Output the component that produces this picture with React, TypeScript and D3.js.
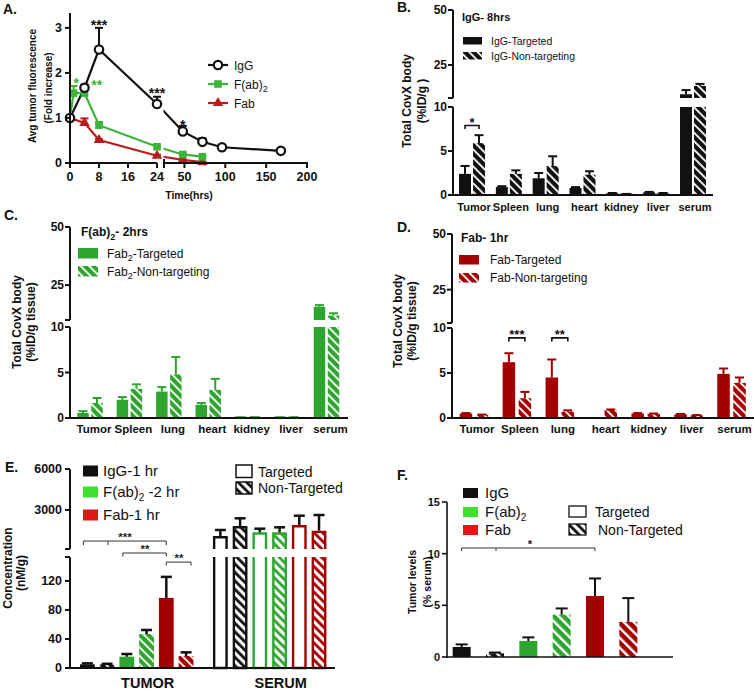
import React from "react";
import * as d3 from "d3";

const FONT = "'Liberation Sans', Arial, Helvetica, sans-serif";
const BLK = "#111111";
const GRN = "#2ea52e";
const RED = "#a50000";
const GRN_A = "#3cb43c";
const RED_A = "#b81c1c";
const LIME = "#40e030";
const RED_L = "#e21616";

// ---------- Panel A data ----------
const iggTime = [0, 4, 8, 24, 48, 72, 96, 168];
const iggMean = [1.0, 1.67, 2.52, 1.31, 0.7, 0.47, 0.35, 0.27];
const iggSem = [0.05, 0.07, 0.48, 0.16, 0.12, 0.08, 0.03, 0.02];
const fab2Time = [0, 1, 4, 8, 24, 48, 72];
const fab2Mean = [1.0, 1.55, 1.55, 0.84, 0.36, 0.19, 0.14];
const fab2Sem = [0.05, 0.16, 0.1, 0.07, 0.03, 0.03, 0.02];
const fabTime = [0, 4, 8, 24, 48, 72];
const fabMean = [1.0, 0.89, 0.51, 0.16, 0.07, 0.02];
const fabSem = [0.05, 0.1, 0.02, 0.02, 0.01, 0.01];
const aXTicksLeft = [0, 8, 16, 24];
const aXTicksRight = [50, 100, 150, 200];
const aYTicks = [0, 1, 2, 3];
const aStars = [
  { t: 1.7, v: 1.83, s: "*", series: "fab2" },
  { t: 7.4, v: 1.78, s: "**", series: "fab2" },
  { t: 8, v: 3.11, s: "***", series: "igg" },
  { t: 24, v: 1.6, s: "***", series: "igg" },
  { t: 48, v: 0.89, s: "*", series: "igg" },
];

// ---------- Panels B-D data ----------
const organs = ["Tumor", "Spleen", "lung", "heart", "kidney", "liver", "serum"];
const bTarg = [2.4, 0.9, 1.9, 0.8, 0.2, 0.3, 11.7];
const bTargSem = [0.9, 0.1, 0.6, 0.1, 0.03, 0.05, 1.9];
const bNon = [5.9, 2.4, 3.3, 2.3, 0.1, 0.2, 15.5];
const bNonSem = [0.9, 0.4, 1.1, 0.4, 0.02, 0.03, 0.9];
const cTarg = [0.55, 2.0, 2.9, 1.45, 0.05, 0.05, 15.7];
const cTargSem = [0.2, 0.3, 0.5, 0.2, 0.01, 0.01, 0.7];
const cNon = [1.65, 3.2, 4.8, 3.1, 0.08, 0.08, 11.9];
const cNonSem = [0.55, 0.5, 1.9, 1.2, 0.01, 0.01, 1.0];
const dTarg = [0.5, 6.2, 4.5, 0, 0.5, 0.4, 4.9];
const dTargSem = [0.05, 1.0, 2.0, 0, 0.05, 0.05, 0.6];
const dNon = [0.35, 2.2, 0.7, 0.9, 0.45, 0.3, 3.9];
const dNonSem = [0.03, 0.7, 0.15, 0.05, 0.05, 0.03, 0.6];
const organTicksLow = [0, 5, 10];
const organTicksHigh = [25, 50];
const bSig = [{ cat: "Tumor", v: 7.9, s: "*" }];
const dSig = [
  { cat: "Spleen", v: 8.9, s: "***" },
  { cat: "lung", v: 8.9, s: "**" },
];

// ---------- Panel E data ----------
const eGroups = ["TUMOR", "SERUM"];
const eSeries = ["IgG-T", "IgG-N", "Fab2-T", "Fab2-N", "Fab-T", "Fab-N"];
const eTumorMean = [5.1, 4.8, 15.6, 46.9, 96.6, 16.5];
const eTumorSem = [1.3, 1.0, 3.7, 5.5, 29, 5.1];
const eSerumMean = [1100, 1830, 1370, 1370, 1905, 1490];
const eSerumSem = [440, 565, 265, 365, 680, 1145];
const eTicksLow = [0, 40, 80, 120];
const eTicksHigh = [3000, 6000];

// ---------- Panel F data ----------
const fSeries = ["IgG-T", "IgG-N", "Fab2-T", "Fab2-N", "Fab-T", "Fab-N"];
const fMean = [0.97, 0.35, 1.55, 4.1, 5.9, 3.4];
const fSem = [0.25, 0.08, 0.35, 0.6, 1.7, 2.3];
const fTicks = [0, 5, 10, 15];

const seriesColor = (s: string) =>
  s.startsWith("IgG") ? BLK : s.startsWith("Fab2") ? GRN : RED;
const seriesKey = (s: string) =>
  s.startsWith("IgG") ? "blk" : s.startsWith("Fab2") ? "grn" : "red";

function Hatch({ id, bg, fg, size, w }: any) {
  return (
    <pattern id={id} patternUnits="userSpaceOnUse" width={size} height={size} patternTransform="rotate(-45)">
      <rect width={size} height={size} fill={bg} />
      <rect width={w} height={size} fill={fg} />
    </pattern>
  );
}

function PanelA() {
  const y = d3.scaleLinear().domain([0, 3.33]).range([163, 13]);
  const x1 = d3.scaleLinear().domain([0, 24]).range([70, 157]);
  const x2 = d3.scaleLinear().domain([25, 200]).range([164, 307]);
  const x = (t: number) => (t <= 24 ? x1(t) : x2(t));
  const series = [
    { key: "igg", t: iggTime, m: iggMean, s: iggSem, c: BLK },
    { key: "fab2", t: fab2Time, m: fab2Mean, s: fab2Sem, c: GRN_A },
    { key: "fab", t: fabTime, m: fabMean, s: fabSem, c: RED_A },
  ];
  const line = d3.line<[number, number]>().x((d) => x(d[0])).y((d) => y(d[1]));
  const marker = (key: string, cx: number, cy: number, c: string, k: any) => {
    if (key === "igg")
      return <circle key={k} cx={cx} cy={cy} r={4.2} fill="#fff" stroke={c} strokeWidth={2.2} />;
    if (key === "fab2")
      return <rect key={k} x={cx - 3.8} y={cy - 3.8} width={7.6} height={7.6} fill={c} />;
    return (
      <path key={k} transform={`translate(${cx},${cy})`} d={d3.symbol(d3.symbolTriangle).size(48)() || ""} fill={c} />
    );
  };
  const colorOf = (k: string) => series.find((s) => s.key === k)!.c;
  return (
    <g>
      <text x={3} y={14} fontSize={14} fontWeight="bold" fill={BLK}>A.</text>
      {series.map((s) => (
        <path key={s.key} d={line(s.t.map((t, i) => [t, s.m[i]] as [number, number])) || ""} fill="none" stroke={s.c} strokeWidth={2.2} />
      ))}
      <rect x={159.5} y={0} width={4} height={161} fill="#fff" />
      {series.map((s) =>
        s.t.map((t, i) => (
          <g key={s.key + i} stroke={s.c} strokeWidth={2}>
            <line x1={x(t)} x2={x(t)} y1={y(s.m[i])} y2={y(s.m[i] + s.s[i])} />
            <line x1={x(t) - 4} x2={x(t) + 4} y1={y(s.m[i] + s.s[i])} y2={y(s.m[i] + s.s[i])} />
          </g>
        ))
      )}
      {[series[2], series[1], series[0]].map((s) => s.t.map((t, i) => marker(s.key, x(t), y(s.m[i]), s.c, s.key + "m" + i)))}
      <g stroke={BLK} strokeWidth={2}>
        <line x1={70} x2={70} y1={13} y2={164} />
        <line x1={69} x2={157} y1={163} y2={163} />
        <line x1={164} x2={308} y1={163} y2={163} />
        <line x1={164} x2={164} y1={159} y2={168} />
        {aYTicks.map((v) => (
          <line key={v} x1={65} x2={70} y1={y(v)} y2={y(v)} />
        ))}
        {aXTicksLeft.map((v) => (
          <line key={v} x1={x1(v)} x2={x1(v)} y1={163} y2={168} />
        ))}
        {aXTicksRight.map((v) => (
          <line key={v} x1={x2(v)} x2={x2(v)} y1={163} y2={168} />
        ))}
      </g>
      <g fontSize={12.5} fontWeight="bold" fill={BLK}>
        {aYTicks.map((v) => (
          <text key={v} x={62} y={y(v)} dy="0.35em" textAnchor="end">{v}</text>
        ))}
        {aXTicksLeft.map((v) => (
          <text key={v} x={x1(v)} y={181} textAnchor="middle">{v}</text>
        ))}
        {aXTicksRight.map((v) => (
          <text key={v} x={x2(v)} y={181} textAnchor="middle">{v}</text>
        ))}
      </g>
      <text x={189} y={199} fontSize={10.5} fontWeight="bold" textAnchor="middle" fill={BLK}>Time(hrs)</text>
      <g fontSize={10} fontWeight="bold" textAnchor="middle" fill={BLK}>
        <text transform="translate(32,86) rotate(-90)" dy="0.35em">Avg tumor fluorescence</text>
        <text transform="translate(48,88) rotate(-90)" dy="0.35em">(Fold increase)</text>
      </g>
      {aStars.map((st, i) => (
        <text key={i} x={x(st.t)} y={y(st.v) + 7} fontSize={14} fontWeight="bold" textAnchor="middle" fill={colorOf(st.series)}>
          {st.s}
        </text>
      ))}
      {series.map((s, i) => {
        const ly = 65 + i * 19;
        return (
          <g key={s.key}>
            <line x1={208} x2={228} y1={ly} y2={ly} stroke={s.c} strokeWidth={2.2} />
            {marker(s.key, 218, ly, s.c, "lm")}
            <text x={234} y={ly + 4.5} fontSize={12} fill={BLK}>
              {s.key === "igg" ? "IgG" : s.key === "fab" ? "Fab" : (
                <>F(ab)<tspan dy={3.5} fontSize={9}>2</tspan></>
              )}
            </text>
          </g>
        );
      })}
    </g>
  );
}

function OrganPanel({ L, tv, ts, nv, ns, color, pat, title, legT, legN, ylab2, sig, letter }: any) {
  const yLo = d3.scaleLinear().domain([0, 10]).range([L.y0, L.y10]);
  const yUp = d3.scaleLinear().domain([10, 50]).range([L.yBrk, L.y50]);
  const x = d3.scalePoint<string>().domain(organs).range([L.x0, L.x1]).padding(0.5);
  const items: any[] = [];
  organs.forEach((o, i) => {
    const pair: any[] = [
      [tv[i], ts[i], -1, color],
      [nv[i], ns[i], 1, `url(#${pat})`],
    ];
    pair.forEach(([v, s, side, fill], j) => {
      if (v <= 0) return;
      const cx = (x(o) as number) + side * L.off;
      const left = cx - L.bw / 2;
      let top: number, capY: number;
      if (v <= 10) {
        top = Math.min(yLo(v), L.y0 - 1.5);
        items.push(<rect key={o + j} x={left} y={top} width={L.bw} height={L.y0 - top} fill={fill} />);
        capY = yLo(v + s);
      } else {
        items.push(<rect key={o + j + "lo"} x={left} y={L.y10} width={L.bw} height={L.y0 - L.y10} fill={fill} />);
        top = yUp(v);
        items.push(<rect key={o + j + "hi"} x={left} y={top} width={L.bw} height={L.yBrk - top} fill={fill} />);
        capY = yUp(v + s);
      }
      if (s > 0)
        items.push(
          <g key={o + j + "e"} stroke={color} strokeWidth={2}>
            <line x1={cx} x2={cx} y1={top} y2={capY} />
            <line x1={cx - 4.5} x2={cx + 4.5} y1={capY} y2={capY} />
          </g>
        );
    });
  });
  return (
    <g fill={BLK}>
      <text x={L.letterX} y={L.letterY} fontSize={14} fontWeight="bold">{letter}</text>
      {items}
      <g stroke={BLK} strokeWidth={2}>
        <line x1={L.axisX} x2={L.axisX} y1={L.y0 + 1} y2={L.y10} />
        <line x1={L.axisX} x2={L.axisX} y1={L.yBrk} y2={L.y50} />
        <line x1={L.axisX - 5} x2={L.axisX} y1={L.yBrk} y2={L.yBrk} />
        <line x1={L.axisX - 1} x2={L.xEnd} y1={L.y0} y2={L.y0} />
        {organTicksLow.map((v) => (
          <line key={v} x1={L.axisX - 5} x2={L.axisX} y1={yLo(v)} y2={yLo(v)} />
        ))}
        {organTicksHigh.map((v) => (
          <line key={v} x1={L.axisX - 5} x2={L.axisX} y1={yUp(v)} y2={yUp(v)} />
        ))}
      </g>
      <g fontSize={12} fontWeight="bold" textAnchor="end">
        {organTicksLow.map((v) => (
          <text key={v} x={L.axisX - 6} y={yLo(v)} dy="0.35em">{v}</text>
        ))}
        {organTicksHigh.map((v) => (
          <text key={v} x={L.axisX - 6} y={yUp(v)} dy="0.35em">{v}</text>
        ))}
      </g>
      <g fontSize={L.catFont} fontWeight="bold" textAnchor="middle">
        {organs.map((o) => (
          <text key={o} x={(x(o) as number) + L.labelDx} y={L.catY}>{o}</text>
        ))}
      </g>
      <g fontSize={12} fontWeight="bold" textAnchor="middle">
        <text transform={`translate(${L.ylabX1},${L.ylabY}) rotate(-90)`} dy="0.35em">Total CovX body</text>
        <text transform={`translate(${L.ylabX2},${L.ylabY}) rotate(-90)`} dy="0.35em">{ylab2}</text>
      </g>
      <text x={L.titleX} y={L.titleY} fontSize={L.titleFont} fontWeight="bold">{title}</text>
      <rect x={L.legX} y={L.legY1} width={L.swW} height={L.swH} fill={color} />
      <rect x={L.legX} y={L.legY2} width={L.swW} height={L.swH} fill={`url(#${pat})`} />
      <text x={L.legTextX} y={L.legY1 + L.swH / 2} dy="0.36em" fontSize={L.legFont}>{legT}</text>
      <text x={L.legTextX} y={L.legY2 + L.swH / 2} dy="0.36em" fontSize={L.legFont}>{legN}</text>
      {sig.map((g: any, i: number) => {
        const c = x(g.cat) as number;
        const yy = yLo(g.v);
        const a = c - L.off, b = c + L.off;
        return (
          <g key={i}>
            <path d={`M${a},${yy + 3.5}V${yy}H${b}V${yy + 3.5}`} fill="none" stroke={BLK} strokeWidth={1.6} />
            <text x={c} y={yy + 1.5} fontSize={13} fontWeight="bold" textAnchor="middle" fill={BLK}>{g.s}</text>
          </g>
        );
      })}
    </g>
  );
}

const layoutB = {
  letterX: 397, letterY: 12, axisX: 453, xEnd: 713, x0: 453.6, x1: 711.4,
  y0: 195, y10: 107, yBrk: 98, y50: 10, bw: 12, off: 7, catY: 211, catFont: 11, labelDx: 2,
  titleX: 462, titleY: 21, titleFont: 11, legX: 463, legY1: 37, legY2: 52, swW: 19, swH: 7.5,
  legTextX: 491, legFont: 10.5, ylabX1: 407, ylabX2: 422, ylabY: 101,
};
const layoutC = {
  letterX: 4, letterY: 220, axisX: 70, xEnd: 348, x0: 70.3, x1: 346.2,
  y0: 418, y10: 327, yBrk: 320, y50: 227, bw: 11.5, off: 7, catY: 433, catFont: 11.5, labelDx: 4,
  titleX: 81, titleY: 236, titleFont: 12, legX: 78, legY1: 248, legY2: 266, swW: 20, swH: 10.5,
  legTextX: 107, legFont: 12, ylabX1: 17, ylabX2: 31, ylabY: 322,
};
const layoutD = {
  letterX: 397, letterY: 232, axisX: 452, xEnd: 754, x0: 452.5, x1: 753,
  y0: 418, y10: 328, yBrk: 323, y50: 234, bw: 12.5, off: 8, catY: 433, catFont: 11.5, labelDx: 3,
  titleX: 461, titleY: 242, titleFont: 12, legX: 459, legY1: 255, legY2: 273, swW: 20, swH: 9.5,
  legTextX: 490, legFont: 12, ylabX1: 398, ylabX2: 412, ylabY: 321,
};

function PanelE() {
  const yLo = d3.scaleLinear().domain([0, 153]).range([668, 557]);
  const yUp = d3.scaleLinear().domain([150, 6000]).range([549, 469]);
  const gx = d3.scaleBand<string>().domain(eGroups).range([78, 328.4]).paddingInner(0.117);
  const ix = d3.scaleBand<string>().domain(eSeries).range([0, gx.bandwidth()]).paddingInner(0.25).paddingOuter(0.1);
  const bw = ix.bandwidth();
  const items: any[] = [];
  eSeries.forEach((s, i) => {
    const c = seriesColor(s);
    const nt = s.endsWith("-N");
    const left = (gx("TUMOR") as number) + (ix(s) as number);
    const cx = left + bw / 2;
    const top = yLo(eTumorMean[i]);
    items.push(<rect key={"t" + s} x={left} y={top} width={bw} height={668 - top} fill={nt ? `url(#h_${seriesKey(s)})` : c} />);
    const cap = yLo(eTumorMean[i] + eTumorSem[i]);
    items.push(
      <g key={"te" + s} stroke={BLK} strokeWidth={2.5}>
        <line x1={cx} x2={cx} y1={top} y2={cap} />
        <line x1={cx - 5.5} x2={cx + 5.5} y1={cap} y2={cap} />
      </g>
    );
    const l2 = (gx("SERUM") as number) + (ix(s) as number);
    const c2 = l2 + bw / 2;
    const top2 = yUp(eSerumMean[i]);
    const fill = nt ? `url(#hw_${seriesKey(s)})` : "#fff";
    const inset = 1.2;
    items.push(
      <g key={"s" + s}>
        <rect x={l2 + inset} y={557} width={bw - 2 * inset} height={668 - 557} fill={fill} />
        <rect x={l2 + inset} y={top2 + inset} width={bw - 2 * inset} height={549 - top2 - inset} fill={fill} />
        <path d={`M${l2 + inset},557V668H${l2 + bw - inset}V557`} fill="none" stroke={c} strokeWidth={2.4} />
        <path d={`M${l2 + inset},549V${top2 + inset}H${l2 + bw - inset}V549`} fill="none" stroke={c} strokeWidth={2.4} />
      </g>
    );
    const cap2 = yUp(eSerumMean[i] + eSerumSem[i]);
    items.push(
      <g key={"se" + s} stroke={BLK} strokeWidth={2.5}>
        <line x1={c2} x2={c2} y1={top2} y2={cap2} />
        <line x1={c2 - 5.5} x2={c2 + 5.5} y1={cap2} y2={cap2} />
      </g>
    );
  });
  const cxOf = (s: string) => (gx("TUMOR") as number) + (ix(s) as number) + bw / 2;
  const b1y = yLo(175), b2y = yLo(158.5), b3y = yLo(146);
  const legend = [
    { lab: "IgG-1 hr", c: BLK },
    { lab: "F(ab)2 -2 hr", c: LIME },
    { lab: "Fab-1 hr", c: RED_L },
  ];
  return (
    <g fill={BLK}>
      <text x={5} y={472} fontSize={14} fontWeight="bold">E.</text>
      {items}
      <g stroke={BLK} strokeWidth={2}>
        <line x1={70} x2={70} y1={669} y2={557} />
        <line x1={70} x2={70} y1={549} y2={469} />
        <line x1={65} x2={70} y1={549} y2={549} />
        <line x1={65} x2={70} y1={557} y2={557} />
        <line x1={69} x2={335} y1={668} y2={668} />
        {eTicksLow.map((v) => <line key={v} x1={65} x2={70} y1={yLo(v)} y2={yLo(v)} />)}
        {eTicksHigh.map((v) => <line key={v} x1={65} x2={70} y1={yUp(v)} y2={yUp(v)} />)}
      </g>
      <g fontSize={12.5} fontWeight="bold" textAnchor="end">
        {eTicksLow.map((v) => <text key={v} x={62} y={yLo(v)} dy="0.35em">{v}</text>)}
        {eTicksHigh.map((v) => <text key={v} x={62} y={yUp(v)} dy="0.35em">{v}</text>)}
      </g>
      <g fontSize={12} fontWeight="bold" textAnchor="middle">
        <text transform="translate(8,568) rotate(-90)" dy="0.35em">Concentration</text>
        <text transform="translate(21,573) rotate(-90)" dy="0.35em">(nM/g)</text>
      </g>
      <g fontSize={14.5} fontWeight="bold" textAnchor="middle">
        {eGroups.map((g) => (
          <text key={g} x={(gx(g) as number) + gx.bandwidth() / 2 + 11} y={688}>{g}</text>
        ))}
      </g>
      <g fill="none" stroke="#333" strokeWidth={1}>
        <path d={`M${cxOf("IgG-T") - 4},${b1y + 4}V${b1y}H${cxOf("Fab-T")}V${b1y + 4}M${cxOf("IgG-N") + 1},${b1y}V${b1y + 4}`} />
        <path d={`M${cxOf("Fab2-T") - 4},${b2y + 3.5}V${b2y}H${cxOf("Fab-T")}V${b2y + 3.5}`} />
        <path d={`M${cxOf("Fab-T")},${b3y + 3.5}V${b3y}H${cxOf("Fab-N") + 5}V${b3y + 3.5}`} />
      </g>
      <g fontSize={11.5} fontWeight="bold" textAnchor="middle">
        <text x={125} y={b1y} fill="#222">***</text>
        <text x={145} y={b2y} fill="#222">**</text>
        <text x={179} y={b3y} fill="#222">**</text>
      </g>
      {legend.map((l, i) => {
        const ty = [471, 492, 515][i];
        return (
          <g key={l.lab}>
            <rect x={83} y={ty - 5.5} width={15} height={11} fill={l.c} />
            <text x={103} y={ty} dy="0.36em" fontSize={15} fill={BLK}>
              {i === 1 ? (<>F(ab)<tspan dy={4} fontSize={10}>2</tspan><tspan dy={-4}> -2 hr</tspan></>) : l.lab}
            </text>
          </g>
        );
      })}
      <rect x={236} y={465} width={16} height={12.5} fill="#fff" stroke={BLK} strokeWidth={1.5} />
      <rect x={236} y={482} width={16} height={12} fill="url(#hw_blk)" stroke={BLK} strokeWidth={1.5} />
      <text x={258} y={472} dy="0.36em" fontSize={14}>Targeted</text>
      <text x={258} y={488} dy="0.36em" fontSize={14}>Non-Targeted</text>
    </g>
  );
}

function PanelF() {
  const y = d3.scaleLinear().domain([0, 15]).range([657, 502]);
  const x = d3.scaleBand<string>().domain(fSeries).range([446, 644]).paddingInner(0.46).paddingOuter(0.2);
  const bw = x.bandwidth();
  const cx = (s: string) => (x(s) as number) + bw / 2;
  const by = y(10.55);
  const legend = [
    { lab: "IgG", c: BLK },
    { lab: "F(ab)2", c: LIME },
    { lab: "Fab", c: RED_L },
  ];
  return (
    <g fill={BLK}>
      <text x={397} y={480} fontSize={14} fontWeight="bold">F.</text>
      {fSeries.map((s, i) => {
        const top = y(fMean[i]);
        const cap = y(fMean[i] + fSem[i]);
        const nt = s.endsWith("-N");
        return (
          <g key={s}>
            <rect x={x(s)} y={top} width={bw} height={657 - top} fill={nt ? `url(#hf_${seriesKey(s)})` : seriesColor(s)} />
            <g stroke={BLK} strokeWidth={2}>
              <line x1={cx(s)} x2={cx(s)} y1={top} y2={cap} />
              <line x1={cx(s) - 6} x2={cx(s) + 6} y1={cap} y2={cap} />
            </g>
          </g>
        );
      })}
      <g stroke={BLK} strokeWidth={1.6}>
        <line x1={447} x2={447} y1={658} y2={502} />
        <line x1={446} x2={673} y1={657} y2={657} />
        {fTicks.map((v) => <line key={v} x1={442} x2={447} y1={y(v)} y2={y(v)} />)}
      </g>
      <g fontSize={11} fontWeight="bold" textAnchor="end">
        {fTicks.map((v) => <text key={v} x={440} y={y(v)} dy="0.35em">{v}</text>)}
      </g>
      <g fontSize={10.5} fontWeight="bold" textAnchor="middle">
        <text transform="translate(412.5,582) rotate(-90)" dy="0.35em">Tumor levels</text>
        <text transform="translate(427,582) rotate(-90)" dy="0.35em">(% serum)</text>
      </g>
      <path d={`M${cx("IgG-T")},${by + 3}V${by}H${cx("Fab-T")}V${by + 3}M${cx("IgG-N") + 1},${by}V${by + 3}`} fill="none" stroke="#333" strokeWidth={1} />
      <text x={530} y={by} fontSize={11.5} fontWeight="bold" textAnchor="middle" fill="#222">*</text>
      {legend.map((l, i) => {
        const ty = [493, 512, 530][i];
        return (
          <g key={l.lab}>
            <rect x={463} y={ty - 5} width={15} height={10} fill={l.c} />
            <text x={485} y={ty} dy="0.36em" fontSize={15} fill={BLK}>
              {i === 1 ? (<>F(ab)<tspan dy={4} fontSize={10}>2</tspan></>) : l.lab}
            </text>
          </g>
        );
      })}
      <rect x={569} y={506} width={17} height={11} fill="#fff" stroke={BLK} strokeWidth={1.3} />
      <rect x={569} y={524} width={17} height={11} fill="url(#hw_blk)" stroke={BLK} strokeWidth={1.3} />
      <text x={595} y={512} dy="0.36em" fontSize={14}>Targeted</text>
      <text x={598} y={530} dy="0.36em" fontSize={14}>Non-Targeted</text>
    </g>
  );
}

export default function App() {
  return (
    <svg width={754} height={691} style={{ position: "absolute", left: 0, top: 0, background: "#fff" }} fontFamily={FONT} fill={BLK}>
      <defs>
        <Hatch id="h_blk" bg={BLK} fg="#fff" size={6} w={1.8} />
        <Hatch id="h_grn" bg={GRN} fg="#fff" size={6} w={1.8} />
        <Hatch id="h_red" bg={RED} fg="#fff" size={6} w={1.8} />
        <Hatch id="hf_blk" bg={BLK} fg="#fff" size={7} w={2.4} />
        <Hatch id="hf_grn" bg={GRN} fg="#fff" size={7} w={2.4} />
        <Hatch id="hf_red" bg={RED} fg="#fff" size={7} w={2.4} />
        <Hatch id="hw_blk" bg="#fff" fg={BLK} size={6} w={2.8} />
        <Hatch id="hw_grn" bg="#fff" fg={GRN} size={6} w={2.8} />
        <Hatch id="hw_red" bg="#fff" fg={RED} size={6} w={2.8} />
      </defs>
      <rect width={754} height={691} fill="#fff" />
      <PanelA />
      <OrganPanel L={layoutB} tv={bTarg} ts={bTargSem} nv={bNon} ns={bNonSem} color={BLK} pat="h_blk"
        title="IgG- 8hrs" legT="IgG-Targeted" legN="IgG-Non-targeting" ylab2="(%ID/g )" sig={bSig} letter="B." />
      <OrganPanel L={layoutC} tv={cTarg} ts={cTargSem} nv={cNon} ns={cNonSem} color={GRN} pat="h_grn"
        title={<>F(ab)<tspan dy={3.5} fontSize={9}>2</tspan><tspan dy={-3.5}>- 2hrs</tspan></>}
        legT={<>Fab<tspan dy={3.5} fontSize={9}>2</tspan><tspan dy={-3.5}>-Targeted</tspan></>}
        legN={<>Fab<tspan dy={3.5} fontSize={9}>2</tspan><tspan dy={-3.5}>-Non-targeting</tspan></>}
        ylab2="(%ID/g tissue)" sig={[]} letter="C." />
      <OrganPanel L={layoutD} tv={dTarg} ts={dTargSem} nv={dNon} ns={dNonSem} color={RED} pat="h_red"
        title="Fab- 1hr" legT="Fab-Targeted" legN="Fab-Non-targeting" ylab2="(%ID/g tissue)" sig={dSig} letter="D." />
      <PanelE />
      <PanelF />
    </svg>
  );
}
